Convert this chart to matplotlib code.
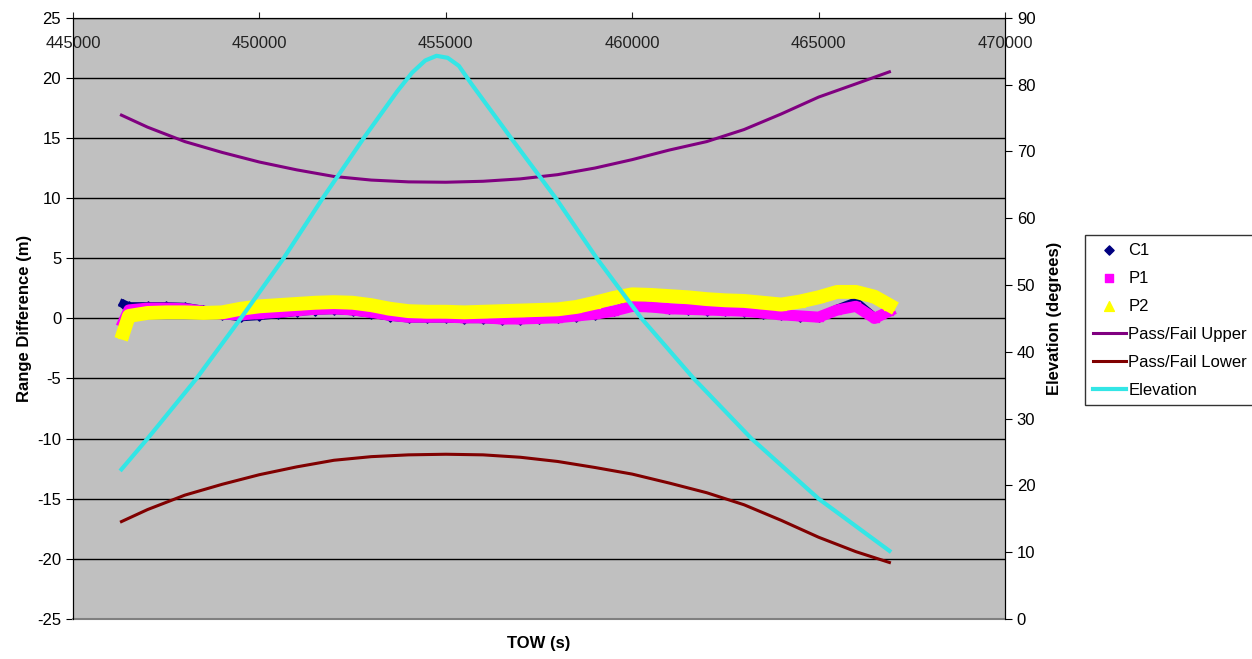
import matplotlib.pyplot as plt
from matplotlib.ticker import MultipleLocator

plt.rcParams["font.family"] = ["Liberation Sans", "DejaVu Sans"]
plt.rcParams["axes.unicode_minus"] = False

# Range difference samples (m)
tow_res = [446350, 446500, 447000, 447500, 448000, 448500, 449000, 449500,
           450000, 450500, 451000, 451500, 452000, 452500, 453000, 453500,
           454000, 454500, 455000, 455500, 456000, 456500, 457000, 457500,
           458000, 458500, 459000, 459500, 460000, 460500, 461000, 461500,
           462000, 462500, 463000, 463500, 464000, 464500, 465000, 465500,
           466000, 466500, 466900]
c1 = [1.2, 1.0, 1.0, 1.0, 0.95, 0.7, 0.3, 0.1,
      0.2, 0.35, 0.55, 0.65, 0.7, 0.6, 0.4, 0.15,
      0.0, 0.0, 0.0, -0.05, -0.05, -0.1, -0.1, -0.05,
      0.0, 0.15, 0.3, 0.6, 1.3, 1.0, 0.8, 0.7,
      0.65, 0.6, 0.55, 0.4, 0.25, 0.15, 0.1, 0.8,
      1.4, 0.1, 0.6]
p1 = [-0.3, 0.7, 0.85, 0.85, 0.8, 0.6, 0.35, 0.3,
      0.4, 0.5, 0.65, 0.75, 0.8, 0.7, 0.5, 0.25,
      0.1, 0.1, 0.1, 0.05, 0.05, -0.05, -0.05, 0.0,
      0.05, 0.2, 0.35, 0.6, 1.0, 0.95, 0.8, 0.75,
      0.7, 0.65, 0.6, 0.45, 0.3, 0.2, 0.1, 0.7,
      1.0, 0.0, 0.6]
p2 = [-1.2, 0.2, 0.45, 0.5, 0.5, 0.45, 0.5, 0.8,
      1.0, 1.1, 1.2, 1.3, 1.35, 1.3, 1.1, 0.8,
      0.6, 0.55, 0.55, 0.5, 0.55, 0.6, 0.65, 0.7,
      0.75, 0.95, 1.3, 1.7, 2.0, 1.95, 1.85, 1.75,
      1.6, 1.5, 1.45, 1.3, 1.15, 1.4, 1.75, 2.2,
      2.2, 1.8, 1.1]

# Pass/fail limits (m)
tow_pf = [446300, 447000, 448000, 449000, 450000, 451000, 452000, 453000,
          454000, 455000, 456000, 457000, 458000, 459000, 460000, 461000,
          462000, 463000, 464000, 465000, 466000, 466900]
pf_upper = [16.9, 15.9, 14.7, 13.8, 13.0, 12.35, 11.8, 11.5,
            11.35, 11.32, 11.4, 11.6, 11.95, 12.5, 13.2, 14.0,
            14.7, 15.7, 17.0, 18.4, 19.5, 20.5]
pf_lower = [-16.9, -15.9, -14.7, -13.8, -13.0, -12.35, -11.8, -11.5,
            -11.35, -11.3, -11.35, -11.55, -11.9, -12.4, -12.95, -13.7,
            -14.5, -15.5, -16.8, -18.2, -19.4, -20.3]

# Satellite elevation (degrees)
tow_el = [446300, 447000, 448300, 449500, 450650, 451700, 452800, 453700,
          454100, 454450, 454750, 455050, 455350, 455700, 456750, 457950,
          459050, 460250, 461650, 463200, 465000, 466900]
elevation = [22.4, 27.0, 35.9, 45.0, 54.0, 63.0, 72.0, 79.0,
             81.8, 83.6, 84.3, 84.0, 82.8, 80.0, 72.0, 63.0,
             54.0, 45.0, 36.0, 27.0, 18.0, 10.2]

fig = plt.figure(figsize=(12.52, 6.59), dpi=100)
ax = fig.add_axes([0.0583, 0.0607, 0.7444, 0.9124])
ax.set_facecolor("#c0c0c0")

# bands of dense points
ax.plot(tow_res, c1, color="#000080", lw=6, zorder=2)
s_c1 = ax.scatter(tow_res, c1, marker="D", s=22, color="#000080", zorder=2, label="C1")
ax.plot(tow_res, p1, color="#ff00ff", lw=8, zorder=3)
s_p1 = ax.scatter(tow_res, p1, marker="s", s=34, color="#ff00ff", zorder=3, label="P1")
ax.plot(tow_res, p2, color="#ffff00", lw=10, zorder=4)
s_p2 = ax.scatter(tow_res, p2, marker="^", s=50, color="#ffff00", zorder=4, label="P2")

l_up, = ax.plot(tow_pf, pf_upper, color="#800080", lw=2.2, zorder=5, label="Pass/Fail Upper")
l_lo, = ax.plot(tow_pf, pf_lower, color="#800000", lw=2.2, zorder=5, label="Pass/Fail Lower")

ax.set_xlim(445000, 470000)
ax.set_ylim(-25, 25)
ax.xaxis.set_major_locator(MultipleLocator(5000))
ax.yaxis.set_major_locator(MultipleLocator(5))
ax.grid(axis="y", color="black", lw=1)
ax.set_axisbelow(True)

ax.tick_params(axis="x", top=True, bottom=False, labeltop=True, labelbottom=False,
               direction="out", length=4, pad=-28, labelsize=12, colors="#222222")
ax.tick_params(axis="y", direction="out", length=5, labelsize=12)
ax.spines["bottom"].set_color("#808080")
ax.spines["bottom"].set_linewidth(1.5)

ax.set_ylabel("Range Difference (m)", fontsize=12, fontweight="bold", labelpad=4)
ax.set_xlabel("TOW (s)", fontsize=12, fontweight="bold", labelpad=12)

# secondary axis for elevation
ax2 = ax.twinx()
l_el, = ax2.plot(tow_el, elevation, color="#33e6e6", lw=3, label="Elevation")
ax2.set_ylim(0, 90)
ax2.yaxis.set_major_locator(MultipleLocator(10))
ax2.tick_params(axis="y", direction="out", length=5, labelsize=12)
ax2.set_ylabel("Elevation (degrees)", fontsize=12, fontweight="bold", labelpad=8)
ax2.spines["bottom"].set_visible(False)

handles = [s_c1, s_p1, s_p2, l_up, l_lo, l_el]
leg = fig.legend(handles, [h.get_label() for h in handles],
                 loc="upper left", bbox_to_anchor=(1085 / 1252, 1 - 235 / 659),
                 fontsize=12, frameon=True, fancybox=False, edgecolor="black",
                 scatterpoints=1, handlelength=2.0, handletextpad=0.15,
                 labelspacing=0.78, borderpad=0.45, borderaxespad=0)
leg.get_frame().set_linewidth(1)

fig.savefig("out.png", dpi=100)
